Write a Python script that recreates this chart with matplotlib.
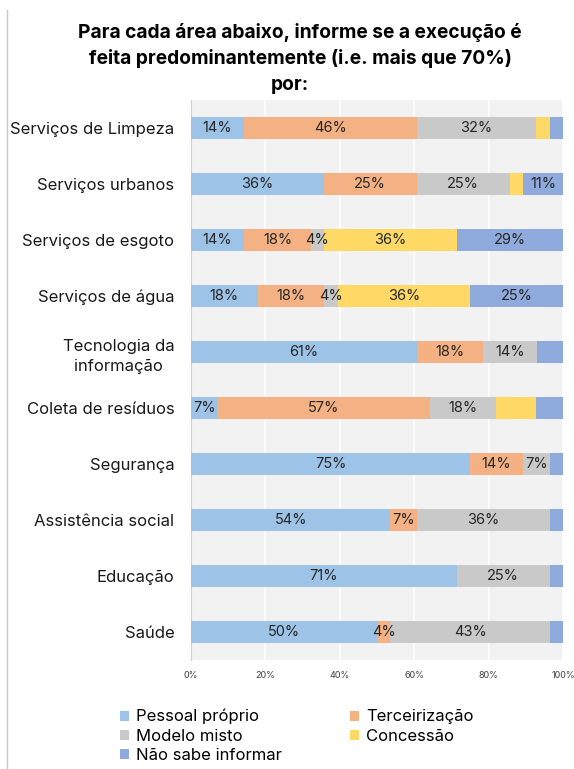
import matplotlib.pyplot as plt
from matplotlib.lines import Line2D
import numpy as np

plt.rcParams['font.family'] = ['Inter', 'DejaVu Sans']

# categorias de cima para baixo
areas = ['Serviços de Limpeza', 'Serviços urbanos', 'Serviços de esgoto',
         'Serviços de água', 'Tecnologia da\ninformação', 'Coleta de resíduos',
         'Segurança', 'Assistência social', 'Educação', 'Saúde']

series = ['Pessoal próprio', 'Terceirização', 'Modelo misto', 'Concessão',
          'Não sabe informar']
cores = ['#9dc3e6', '#f4b183', '#c9c9c9', '#ffd966', '#8faadc']

pessoal = [14.3, 35.7, 14.3, 17.9, 60.7, 7.1, 75.0, 53.6, 71.4, 50.0]
terceir = [46.4, 25.0, 17.9, 17.9, 17.9, 57.1, 14.3, 7.1, 0.0, 3.6]
misto = [32.1, 25.0, 3.6, 3.6, 14.3, 17.9, 7.1, 35.7, 25.0, 42.9]
concessao = [3.6, 3.6, 35.7, 35.7, 0.0, 10.7, 0.0, 0.0, 0.0, 0.0]
nao_sabe = [3.6, 10.7, 28.6, 25.0, 7.1, 7.1, 3.6, 3.6, 3.6, 3.6]

# quais segmentos tem rotulo no original
rot_pessoal = [1, 1, 1, 1, 1, 1, 1, 1, 1, 1]
rot_terceir = [1, 1, 1, 1, 1, 1, 1, 1, 0, 1]
rot_misto = [1, 1, 1, 1, 1, 1, 1, 1, 1, 1]
rot_concessao = [0, 0, 1, 1, 0, 0, 0, 0, 0, 0]
rot_nao_sabe = [0, 1, 1, 1, 0, 0, 0, 0, 0, 0]

xticks = [0, 20, 40, 60, 80, 100]

dados = [pessoal, terceir, misto, concessao, nao_sabe]
rotulos = [rot_pessoal, rot_terceir, rot_misto, rot_concessao, rot_nao_sabe]

fig = plt.figure(figsize=(5.74, 7.69), dpi=100)
ax = fig.add_axes([191/574, 1-660/769, 372/574, 560/769])
ax.set_facecolor('#f2f2f2')

y = np.arange(len(areas))
esq = np.zeros(len(areas))
barras = []
for k in range(len(series)):
    v = np.array(dados[k])
    b = ax.barh(y, v, left=esq, height=0.41, color=cores[k], label=series[k], zorder=3)
    barras.append(b)
    for i in range(len(areas)):
        if rotulos[k][i] and v[i] > 0:
            ax.text(esq[i] + v[i]/2, y[i], '%.0f%%' % v[i], ha='center', va='center',
                    fontsize=10.5, color='#262626', zorder=4)
    esq = esq + v

ax.set_xlim(0, 100)
ax.set_ylim(len(areas) - 0.5, -0.5)
ax.set_xticks(xticks)
ax.set_xticklabels(['%d%%' % t for t in xticks], fontsize=6.5, color='#404040')
ax.set_yticks(y)
ax.set_yticklabels(areas, fontsize=12, color='#1a1a1a')
for lab in ax.get_yticklabels():
    lab.set_multialignment('center')
    lab.set_linespacing(1.45)
ax.tick_params(axis='both', length=0)
ax.tick_params(axis='y', pad=12)
ax.tick_params(axis='x', pad=8)
ax.xaxis.grid(True, color='white', linewidth=1.2, zorder=0)
ax.set_axisbelow(True)
for s in ['top', 'right', 'bottom']:
    ax.spines[s].set_visible(False)
ax.spines['left'].set_color('#d0d0d0')

fig.text(0.523, 1-33/769, 'Para cada área abaixo, informe se a execução é',
         ha='center', va='center', fontsize=13.8, fontweight='bold', color='black')
fig.text(0.523, 1-59/769, 'feita predominantemente (i.e. mais que 70%)',
         ha='center', va='center', fontsize=13.8, fontweight='bold', color='black')
fig.text(0.505, 1-85/769, 'por:',
         ha='center', va='center', fontsize=13.8, fontweight='bold', color='black')

# linha cinza na borda esquerda
fig.add_artist(Line2D([7/574, 7/574], [0, 1-10/769], color='#c8c8c8', linewidth=1))

ordem = [0, 2, 4, 1, 3]
leg = fig.legend([barras[i] for i in ordem], [series[i] for i in ordem],
                 ncol=2, loc='upper left', bbox_to_anchor=(120/574, 1-709/769),
                 frameon=False, fontsize=12, handlelength=0.55, handleheight=0.55,
                 handletextpad=0.4, columnspacing=4.1, labelspacing=0.25,
                 borderpad=0, borderaxespad=0)

fig.savefig('out.png', dpi=100)
